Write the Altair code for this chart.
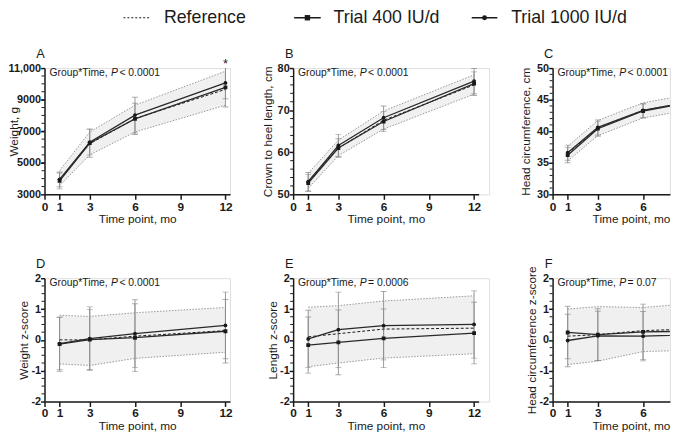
import altair as alt
import pandas as pd

TIME = [1, 3, 6, 12]
GROUPS = ["Trial 400 IU/d", "Trial 1000 IU/d"]

# A: Weight, g
REF_A = [3950, 6200, 7800, 9650]
LOW_A = [3550, 5500, 6950, 8650]
HIGH_A = [4500, 6950, 8650, 10800]
T400_A = [3850, 6250, 7780, 9780]
SD400_A = [500, 900, 990, 1250]
T1000_A = [3950, 6300, 8020, 10060]
SD1000_A = [470, 800, 1130, 1000]

# B: Crown to heel length, cm
REF_B = [53.2, 61.0, 67.6, 76.0]
LOW_B = [51.4, 59.2, 65.5, 73.8]
HIGH_B = [55.0, 62.9, 69.8, 78.4]
T400_B = [52.7, 61.0, 67.3, 76.3]
SD400_B = [2.0, 2.2, 2.4, 2.8]
T1000_B = [53.0, 61.6, 68.2, 76.9]
SD1000_B = [2.2, 2.6, 2.8, 3.0]

# C: Head circumference, cm
REF_C = [36.5, 40.5, 43.3, 45.9]
LOW_C = [35.3, 39.3, 42.1, 44.6]
HIGH_C = [37.6, 41.7, 44.5, 47.1]
T400_C = [36.2, 40.4, 43.2, 45.8]
SD400_C = [1.2, 1.2, 1.1, 1.3]
T1000_C = [36.6, 40.6, 43.3, 46.0]
SD1000_C = [1.2, 1.2, 1.1, 1.3]

# D: Weight z-score
REF_D = [0.0, 0.0, 0.12, 0.3]
LOW_D = [-0.78, -0.83, -0.6, -0.4]
HIGH_D = [0.8, 0.76, 0.88, 1.05]
T400_D = [-0.14, 0.01, 0.07, 0.28]
SD400_D = [0.88, 0.97, 1.1, 1.03]
T1000_D = [-0.12, 0.04, 0.2, 0.47]
SD1000_D = [0.85, 1.03, 1.1, 1.08]

# E: Length z-score
REF_E = [0.1, 0.2, 0.35, 0.38]
LOW_E = [-0.87, -0.75, -0.59, -0.45]
HIGH_E = [1.06, 1.11, 1.26, 1.43]
T400_E = [-0.17, -0.08, 0.05, 0.22]
SD400_E = [0.91, 1.05, 0.95, 1.0]
T1000_E = [0.03, 0.33, 0.46, 0.5]
SD1000_E = [0.93, 1.22, 1.11, 1.09]

# F: Head circumference z-score
REF_F = [0.12, 0.17, 0.3, 0.4]
LOW_F = [-0.8, -0.69, -0.38, -0.3]
HIGH_F = [1.0, 1.08, 1.05, 1.3]
T400_F = [0.24, 0.17, 0.26, 0.3]
SD400_F = [0.85, 0.84, 0.9, 0.9]
T1000_F = [-0.02, 0.13, 0.12, 0.2]
SD1000_F = [0.85, 0.8, 0.8, 0.9]

X_TICKS = [0, 1, 3, 6, 9, 12]

FONT = "Liberation Sans"
DARK = "#1a1a1a"
GRAY = "#8c8c8c"
BAND = "#f0f0f0"
PLOT_W = 188          # px for 0..12.3 months
XMAX = 12.3
PX_PER_MO = PLOT_W / XMAX
A0 = 45.0             # expected page x of the first panel's y axis
C0 = A0 + 514.6
CUT_W = 678.5 - C0
CUT_XMAX = CUT_W / PX_PER_MO
H_TOP = 128
H_BOT = 125
ANN = 10.5            # annotation font size
NB = "\u00a0"
ONE = pd.DataFrame({"k": [0]})


def txt(text, x, y, size=11, style="normal", align="left", weight="normal"):
    return alt.Chart(ONE).mark_text(
        text=text, font=FONT, fontSize=size, fontStyle=style, fontWeight=weight,
        align=align, baseline="middle", color=DARK
    ).encode(x=alt.value(x), y=alt.value(y))


def panel(letter, ytitle, ydom, majors, minors, expr, title_x,
          ref, low, high, t400, sd400, t1000, sd1000, prest,
          height, cell_w, xmax, range_w, cut=False, extra=None, lab_pad=2):
    ref_df = pd.DataFrame({"time": TIME, "ref": ref, "low": low, "high": high})
    grp = pd.DataFrame({
        "time": TIME * 2,
        "group": [GROUPS[0]] * 4 + [GROUPS[1]] * 4,
        "mean": t400 + t1000,
        "sd": sd400 + sd1000,
    })
    grp["lo"] = grp["mean"] - grp["sd"]
    grp["hi"] = grp["mean"] + grp["sd"]
    minor_df = pd.DataFrame({"v": minors})

    xaxis = alt.Axis(
        values=[v for v in X_TICKS if v <= xmax], title="Time point, mo",
        titleAnchor="end" if cut else "middle",
        labelFont=FONT, labelFontSize=12,
        labelFontWeight="bold", labelColor=DARK, titleFont=FONT, titleFontSize=12,
        titleFontWeight="normal", titleColor=DARK, domainColor=DARK, domainWidth=1.5,
        tickColor=DARK, tickWidth=1.5, tickSize=5, labelPadding=lab_pad, titlePadding=2,
        grid=False, labelFlush=False, labelOverlap=False,
    )
    xscale = alt.Scale(domain=[0, xmax], nice=False, zero=False, range=[0, range_w])
    yaxis = alt.Axis(
        values=majors, labelExpr=expr, title=ytitle, titleX=title_x,
        titleFont=FONT, titleFontSize=12, titleFontWeight="normal", titleColor=DARK,
        labelFont=FONT, labelFontSize=11, labelFontWeight="bold", labelColor=DARK,
        labelPadding=0, tickSize=4, tickWidth=1.5, tickColor=DARK,
        domainColor=DARK, domainWidth=1.5, grid=False, labelFlush=False,
        labelOverlap=False,
    )
    yscale = alt.Scale(domain=ydom, nice=False, zero=False)

    def X():
        return alt.X("time:Q", scale=xscale, axis=xaxis)

    def Y(f):
        return alt.Y(f"{f}:Q", scale=yscale, axis=yaxis)

    base_r = alt.Chart(ref_df)
    base_g = alt.Chart(grp)
    dot = dict(color=GRAY, strokeWidth=0.9, strokeDash=[1.5, 1.5], clip=True)
    bar = dict(color=GRAY, clip=True)
    p_x = 5 + 5.946 * ANN
    s_x = p_x + 0.667 * ANN + 1.5
    layers = [
        base_r.mark_area(color=BAND, opacity=1, clip=True).encode(x=X(), y=Y("low"), y2="high"),
        base_r.mark_line(**dot).encode(x=X(), y=Y("low")),
        base_r.mark_line(**dot).encode(x=X(), y=Y("high")),
        base_g.mark_rule(strokeWidth=0.9, **bar).encode(x=X(), y=Y("lo"), y2="hi"),
        base_g.mark_tick(orient="horizontal", size=6, thickness=0.9, **bar).encode(x=X(), y=Y("lo")),
        base_g.mark_tick(orient="horizontal", size=6, thickness=0.9, **bar).encode(x=X(), y=Y("hi")),
        base_r.mark_line(color=DARK, strokeWidth=1, strokeDash=[3, 2], clip=True).encode(x=X(), y=Y("ref")),
        base_g.mark_line(color="#2a2a2a", strokeWidth=1.3, clip=True).encode(
            x=X(), y=Y("mean"), detail="group:N"),
        base_g.mark_point(filled=True, size=15, opacity=1, color=DARK, clip=True).encode(
            x=X(), y=Y("mean"),
            shape=alt.Shape("group:N", scale=alt.Scale(domain=GROUPS, range=["square", "circle"]), legend=None),
        ),
        alt.Chart(minor_df).mark_rule(color=DARK, strokeWidth=1).encode(
            y=Y("v"), x=alt.value(0), x2=alt.value(-3)),
        txt(letter, -4, -14, size=13, align="center"),
        txt("Group*Time,", 5, 5, size=ANN),
        txt("P", p_x, 5, size=ANN, style="italic"),
        txt(prest, s_x, 5, size=ANN),
    ]
    if extra:
        layers += extra
    return alt.layer(*layers).properties(width=cell_w, height=height)


LEGEND_Y = -51
legend = [
    alt.Chart(ONE).mark_rule(color=DARK, strokeWidth=1.2, strokeDash=[2, 2]).encode(
        x=alt.value(-172), x2=alt.value(-146), y=alt.value(LEGEND_Y)),
    txt("Reference", -131, LEGEND_Y, size=18),
    alt.Chart(ONE).mark_rule(color=DARK, strokeWidth=1.5).encode(
        x=alt.value(1), x2=alt.value(28), y=alt.value(LEGEND_Y)),
    alt.Chart(ONE).mark_point(shape="square", filled=True, size=30, opacity=1, color=DARK).encode(
        x=alt.value(14.5), y=alt.value(LEGEND_Y)),
    txt("Trial 400 IU/d", 41, LEGEND_Y, size=18),
    alt.Chart(ONE).mark_rule(color=DARK, strokeWidth=1.5).encode(
        x=alt.value(181), x2=alt.value(207), y=alt.value(LEGEND_Y)),
    alt.Chart(ONE).mark_point(shape="circle", filled=True, size=25, opacity=1, color=DARK).encode(
        x=alt.value(194), y=alt.value(LEGEND_Y)),
    txt("Trial 1000 IU/d", 221, LEGEND_Y, size=18),
]

star = [txt("*", PX_PER_MO * 12, -4, size=13, align="center")]

ZEXPR = "toString(datum.value)"
ZMAJ = [-2, -1, 0, 1, 2]
ZMIN = [v / 4 for v in range(-8, 9) if v % 4 != 0]
LT = NB + "<" + NB

pA = panel("A", "Weight, g", [3000, 11000], [3000, 5000, 7000, 9000, 11000],
           list(range(3500, 11000, 500)),
           "datum.value >= 10000 ? format(datum.value, ',') : toString(datum.value)", -24,
           REF_A, LOW_A, HIGH_A, T400_A, SD400_A, T1000_A, SD1000_A,
           LT + "0.0001", H_TOP, PLOT_W, XMAX, PLOT_W, extra=star)
pB = panel("B", "Crown to heel length, cm", [50, 80], [50, 60, 70, 80],
           [v for v in range(52, 80, 2) if v % 10 != 0], ZEXPR, -19,
           REF_B, LOW_B, HIGH_B, T400_B, SD400_B, T1000_B, SD1000_B,
           LT + "0.0001", H_TOP, 198.6, XMAX, PLOT_W, extra=legend)
pC = panel("C", "Head circumference, cm", [30, 50], [30, 35, 40, 45, 50],
           [v for v in range(31, 50) if v % 5 != 0], ZEXPR, -20,
           REF_C, LOW_C, HIGH_C, T400_C, SD400_C, T1000_C, SD1000_C,
           LT + "0.0001", H_TOP, CUT_W, CUT_XMAX, CUT_W, cut=True)
pD = panel("D", "Weight z-score", [-2, 2], ZMAJ, ZMIN, ZEXPR, -14,
           REF_D, LOW_D, HIGH_D, T400_D, SD400_D, T1000_D, SD1000_D,
           LT + "0.0001", H_BOT, PLOT_W, XMAX, PLOT_W, lab_pad=1)
pE = panel("E", "Length z-score", [-2, 2], ZMAJ, ZMIN, ZEXPR, -14,
           REF_E, LOW_E, HIGH_E, T400_E, SD400_E, T1000_E, SD1000_E,
           NB + "=" + NB + "0.0006", H_BOT, 198.6, XMAX, PLOT_W, lab_pad=1)
pF = panel("F", "Head circumference z-score", [-2, 2], ZMAJ, ZMIN, ZEXPR, -14,
           REF_F, LOW_F, HIGH_F, T400_F, SD400_F, T1000_F, SD1000_F,
           NB + "=" + NB + "0.07", H_BOT, CUT_W, CUT_XMAX, CUT_W, cut=True, lab_pad=1)

chart = alt.concat(
    pA, pB, pC, pD, pE, pF, columns=3,
    spacing={"row": 85, "column": 64}, bounds="flush", align="each",
).properties(
    padding={"left": -1, "top": -3, "right": 0, "bottom": -2}
).configure_view(stroke=None).configure(background="white")

chart.save("out.html", embed_options={"renderer": "svg", "actions": False})
